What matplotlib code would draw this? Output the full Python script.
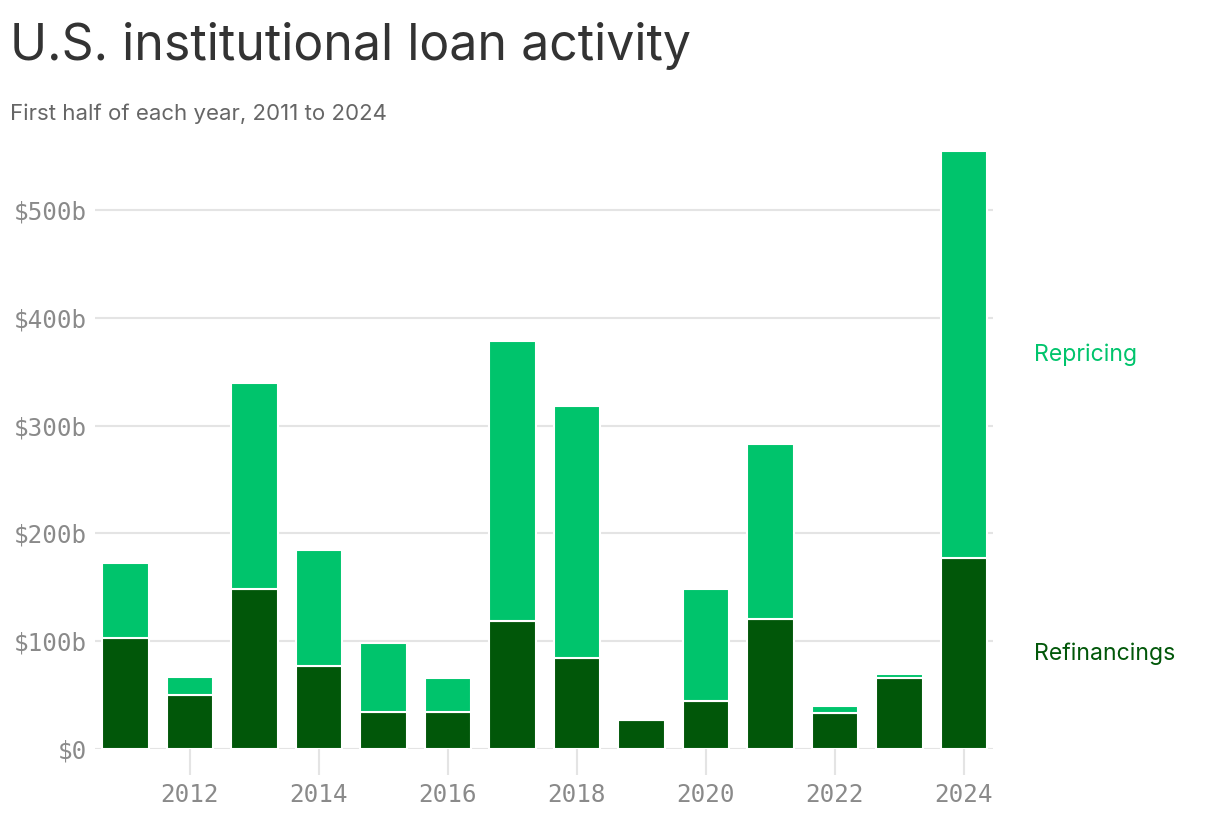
import numpy as np
import matplotlib.pyplot as plt

# --- data (first half of each year, $bn) ---
years = [2011, 2012, 2013, 2014, 2015, 2016, 2017, 2018, 2019, 2020, 2021, 2022, 2023, 2024]
refinancings = [103, 50, 148.4, 77, 34.3, 34.3, 118.7, 84.4, 26.9, 44.5, 120.6, 33.4, 66, 177.5]
repricing = [69.5, 17, 191, 107.5, 64, 31.7, 260, 234, 0, 104, 162.5, 6.5, 3.6, 377]

yticks = [0, 100, 200, 300, 400, 500]
ytick_labels = ["$0", "$100b", "$200b", "$300b", "$400b", "$500b"]
xticks = [2012, 2014, 2016, 2018, 2020, 2022, 2024]

light = "#00c46c"
dark = "#015709"
grid_c = "#e4e4e4"
tick_txt = "#8a8a8a"

fig = plt.figure(figsize=(12.2, 8.24), dpi=100)
ax = fig.add_axes([95 / 1220, 1 - 749 / 824, (993 - 95) / 1220, (749 - 145.3) / 824])

ax.bar(years, refinancings, width=0.72, color=dark, edgecolor="white", linewidth=1.5, zorder=3)
ax.bar(years, repricing, bottom=refinancings, width=0.72, color=light,
       edgecolor="white", linewidth=1.5, zorder=3)

ax.set_xlim(2010.53, 2024.45)
ax.set_ylim(0, 560)

ax.set_yticks(yticks)
ax.set_yticklabels(ytick_labels)
ax.set_xticks(xticks)
ax.set_xticklabels([str(y) for y in xticks])

for v in yticks:
    ax.axhline(v, color=grid_c, lw=1.5, zorder=1)

for s in ax.spines.values():
    s.set_visible(False)

ax.tick_params(axis="y", length=0, pad=5.5, labelsize=17.5, labelcolor=tick_txt)
ax.tick_params(axis="x", length=19, width=1.5, color=grid_c, pad=5.5,
               labelsize=17.5, labelcolor=tick_txt)
for lab in ax.get_xticklabels() + ax.get_yticklabels():
    lab.set_family("DejaVu Sans Mono")

# series labels beside the last bar
last = len(years) - 1
ax.text(2025.08, refinancings[last] + repricing[last] / 2, "Repricing", color=light,
        fontsize=16.6, family="Inter", va="center", ha="left", clip_on=False)
ax.text(2025.08, refinancings[last] / 2, "Refinancings", color=dark,
        fontsize=16.6, family="Inter", va="center", ha="left", clip_on=False)

fig.text(10 / 1220, 1 - 60 / 824, "U.S. institutional loan activity", fontsize=36,
         family="Inter", color="#333333", va="baseline", ha="left")
fig.text(10 / 1220, 1 - 120 / 824, "First half of each year, 2011 to 2024", fontsize=16,
         family="Inter", color="#666666", va="baseline", ha="left")

fig.savefig("out.png", dpi=100)
